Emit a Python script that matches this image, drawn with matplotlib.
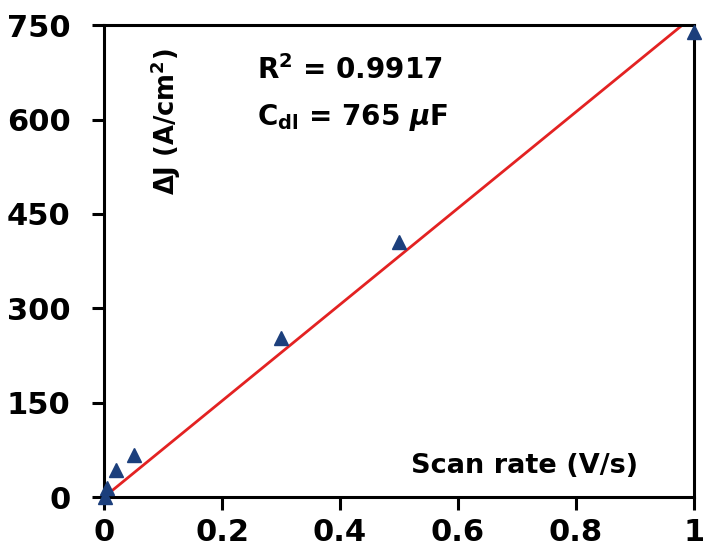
import numpy as np
import matplotlib
matplotlib.use('Agg')
import matplotlib.pyplot as plt

# Datos
scan_rate = [0.001, 0.005, 0.02, 0.05, 0.3, 0.5, 1.0]
delta_j   = [0, 15, 43, 67, 253, 405, 739]
fit_slope, fit_intercept = 765, 0
xticks = [0, 0.2, 0.4, 0.6, 0.8, 1]
xtick_labels = ['0', '0.2', '0.4', '0.6', '0.8', '1']
yticks = [0, 150, 300, 450, 600, 750]

plt.rcParams['font.family'] = 'DejaVu Sans'
plt.rcParams['font.weight'] = 'bold'

fig = plt.figure(figsize=(7.03, 5.58), dpi=100)
ax = fig.add_axes([0.148, 0.109, 0.839, 0.846])

# Ajuste lineal
xf = np.array([0, 1])
ax.plot(xf, fit_slope*xf + fit_intercept, color='#e32222', lw=2.0, zorder=2)
ax.plot(scan_rate, delta_j, linestyle='none', marker='^', ms=10,
        color='#1c3f7c', clip_on=False, zorder=3)

ax.set_xlim(0, 1)
ax.set_ylim(0, 750)
ax.set_xticks(xticks)
ax.set_xticklabels(xtick_labels)
ax.set_yticks(yticks)
for s in ax.spines.values():
  s.set_linewidth(2.2)
ax.tick_params(direction='out', length=9, width=2.2, labelsize=22, pad=6)
ax.tick_params(axis='y', pad=15)
for lab in ax.get_xticklabels() + ax.get_yticklabels():
  lab.set_fontweight('bold')

ax.text(0.104, 0.95, r'$\Delta$J (A/cm$^2$)', transform=ax.transAxes,
        rotation=90, ha='center', va='top', fontsize=18.5, fontweight='bold')
ax.text(0.26, 0.905, r'R$^2$ = 0.9917', transform=ax.transAxes,
        ha='left', va='center', fontsize=20, fontweight='bold')
ax.text(0.26, 0.805, r'C$_{\mathbf{dl}}$ = 765 $\mathbfit{\mu}$F', transform=ax.transAxes,
        ha='left', va='center', fontsize=20, fontweight='bold')
ax.text(0.905, 0.066, 'Scan rate (V/s)', transform=ax.transAxes,
        ha='right', va='center', fontsize=19.5, fontweight='bold')

fig.savefig('out.png', dpi=100)
